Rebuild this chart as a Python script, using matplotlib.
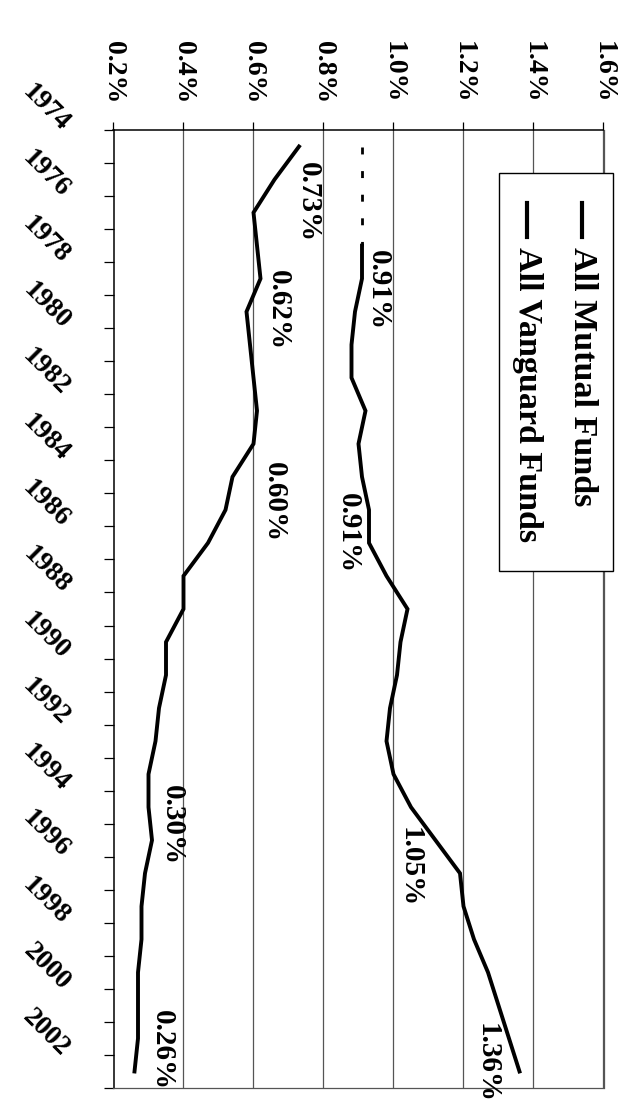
import matplotlib
matplotlib.use("Agg")
import matplotlib.pyplot as plt
from matplotlib.patches import Rectangle
from matplotlib.lines import Line2D

# Expense ratios (percent)
years = list(range(1974, 2003))
vanguard = [0.73, 0.66, 0.60, 0.61, 0.62, 0.58, 0.59, 0.60, 0.61, 0.60,
            0.54, 0.52, 0.47, 0.40, 0.40, 0.35, 0.35, 0.33, 0.32, 0.30,
            0.30, 0.31, 0.29, 0.28, 0.28, 0.27, 0.27, 0.27, 0.26]

# industry average: dashed (estimated) before 1977, solid after
early_years = [1974, 1975, 1976, 1977]
early_funds = [0.91, 0.91, 0.91, 0.91]
fund_years = list(range(1977, 2003))
all_funds = [0.91, 0.91, 0.89, 0.88, 0.88, 0.92, 0.90, 0.91, 0.93, 0.93,
             0.98, 1.04, 1.02, 1.01, 0.99, 0.98, 1.00, 1.05, 1.12, 1.19,
             1.20, 1.23, 1.27, 1.30, 1.33, 1.36]

pct_ticks = [0.2, 0.4, 0.6, 0.8, 1.0, 1.2, 1.4, 1.6]
pct_labels = ["0.2%", "0.4%", "0.6%", "0.8%", "1.0%", "1.2%", "1.4%", "1.6%"]
year_labels = list(range(1974, 2003, 2))

# annotation text, value position, year position
notes = [("0.73%", 0.756, 1975.67), ("0.62%", 0.670, 1978.94),
         ("0.91%", 0.956, 1978.34), ("0.60%", 0.661, 1984.76),
         ("0.91%", 0.870, 1985.70), ("0.30%", 0.367, 1994.54),
         ("0.26%", 0.341, 2001.35), ("1.05%", 1.047, 1995.81),
         ("1.36%", 1.267, 2001.74)]

W, H = 621, 1110
font = "Liberation Serif"
plt.rcParams["font.family"] = [font, "DejaVu Serif"]

fig = plt.figure(figsize=(W / 100, H / 100), dpi=100)
ax = fig.add_axes([113.5 / W, 1 - 1088 / H, 490 / W, 958 / H])

# chart is drawn turned a quarter turn: value runs across, years run down
ax.plot(early_funds, early_years, color="black", lw=2.0, ls=(0, (2.5, 6)), zorder=3)
ax.plot(all_funds, fund_years, color="black", lw=2.8, zorder=3, solid_joinstyle="miter")
ax.plot(vanguard, years, color="black", lw=2.8, zorder=3, solid_joinstyle="miter")

ax.set_xlim(0.2, 1.6)
ax.set_ylim(2002.5, 1973.5)

for v in pct_ticks[1:]:
    ax.axvline(v, color="#555555", lw=0.9, zorder=1)

ax.xaxis.tick_top()
ax.set_xticks(pct_ticks)
ax.set_xticklabels(pct_labels, rotation=-90, fontsize=20, fontweight="bold")
ax.tick_params(axis="x", direction="out", length=6, width=0.9, pad=13)

ax.set_yticks([y - 0.5 for y in range(1974, 2004)])
ax.set_yticklabels([])
ax.tick_params(axis="y", direction="out", length=7, width=0.9)

for y in year_labels:
    ax.text(-0.097, y - 0.58, str(y), transform=ax.get_yaxis_transform(),
            rotation=-45, rotation_mode="anchor", ha="right", va="center",
            fontsize=20, fontweight="bold")

for txt, xv, yv in notes:
    ax.text(xv, yv, txt, rotation=-90, ha="center", va="center",
            fontsize=21, fontweight="bold", zorder=4)

for side in ["left", "top"]:
    ax.spines[side].set_color("black")
    ax.spines[side].set_linewidth(1.1)
for side in ["right", "bottom"]:
    ax.spines[side].set_color("#555555")
    ax.spines[side].set_linewidth(0.9)

# legend box, drawn by hand so its text can be turned with the chart
box = Rectangle((499 / W, 1 - 571 / H), 114 / W, 398 / H, transform=fig.transFigure,
                facecolor="white", edgecolor="black", lw=1.0, zorder=5)
fig.patches.append(box)
for xpix, label in [(582, "All Mutual Funds"), (527, "All Vanguard Funds")]:
    fig.lines.append(Line2D([xpix / W, xpix / W], [1 - 203 / H, 1 - 237 / H],
                            transform=fig.transFigure, color="black", lw=3.0, zorder=6))
    fig.text(xpix / W, 1 - 247 / H, label, rotation=-90, ha="center", va="top",
             fontsize=24.5, fontweight="bold", zorder=6)

fig.savefig("out.png", dpi=100, facecolor="white")
